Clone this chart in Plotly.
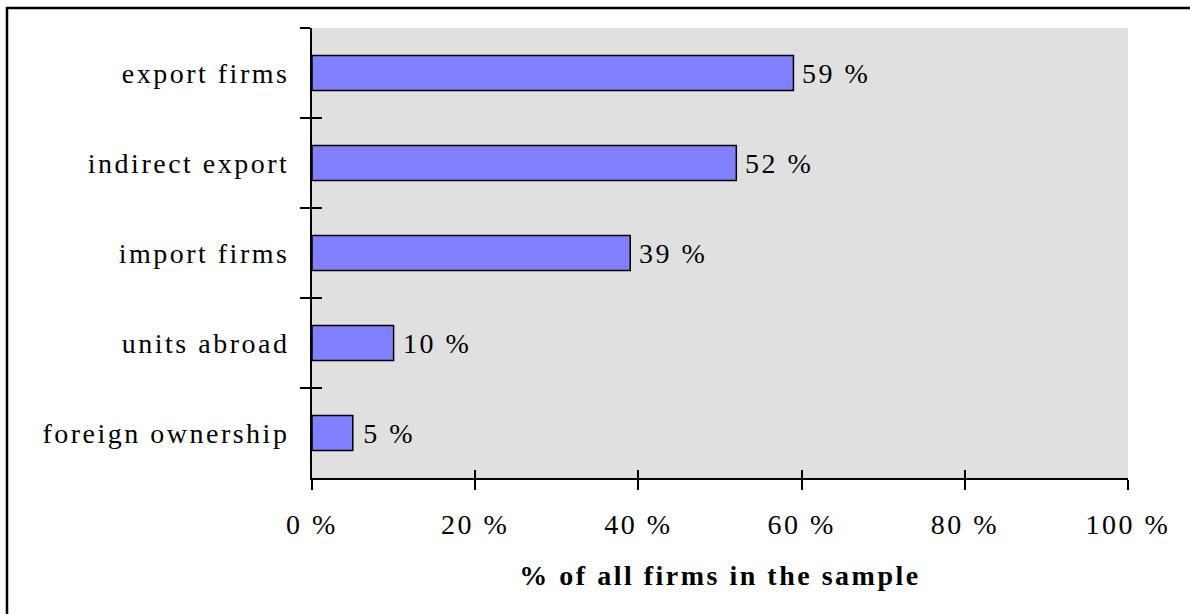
import plotly.graph_objects as go

categories = ["export firms", "indirect export", "import firms", "units abroad", "foreign ownership"]
values = [59, 52, 39, 10, 5]
value_labels = ["59 %", "52 %", "39 %", "10 %", "5 %"]
x_tick_vals = [0, 20, 40, 60, 80, 100]
x_tick_text = ["0 %", "20 %", "40 %", "60 %", "80 %", "100 %"]
x_title = "% of all firms in the sample"

W, H = 1190, 614
L, R, T, B = 312, 1128, 28, 478

FONT = "Liberation Serif"
FS = 28

fig = go.Figure()
fig.add_trace(go.Bar(
    x=values, y=categories, orientation="h",
    marker=dict(color="#8080ff", line=dict(color="black", width=1.5)),
    width=0.39, showlegend=False, hoverinfo="skip",
))
# helper trace so the overlaying tick axes are drawn
fig.add_trace(go.Scatter(x=[None], y=[None], xaxis="x2", yaxis="y2",
                         mode="markers", showlegend=False, hoverinfo="skip"))

def px2paperx(px):
    return (px - L) / (R - L)

def px2papery(py):
    return (B - py) / (B - T)

annotations = [
    dict(x=v, y=c, xref="x", yref="y", text=t, showarrow=False,
         xanchor="left", yanchor="middle", xshift=12,
         font=dict(family=FONT, size=FS, color="black"))
    for v, c, t in zip(values, categories, value_labels)
]

fig.update_layout(
    width=W, height=H,
    margin=dict(l=L, r=W - R, t=T, b=H - B, pad=0),
    paper_bgcolor="white", plot_bgcolor="#e0e0e0",
    font=dict(family=FONT, size=FS, color="black"),
    xaxis=dict(
        range=[0, 100], tickvals=x_tick_vals, ticktext=x_tick_text,
        ticks="outside", ticklen=10, tickwidth=2, tickcolor="black",
        showline=True, linecolor="black", linewidth=2,
        showgrid=False, zeroline=False,
        tickfont=dict(family=FONT, size=FS, color="black"),
        ticklabelstandoff=10,
        title=dict(text="<b>" + x_title + "</b>", font=dict(family=FONT, size=FS, color="black"), standoff=27),
    ),
    xaxis2=dict(
        range=[0, 100], tickvals=x_tick_vals, overlaying="x", anchor="y", side="bottom",
        ticks="inside", ticklen=8, tickwidth=2, tickcolor="black",
        showticklabels=False, showgrid=False, zeroline=False, showline=False,
    ),
    yaxis=dict(
        type="category", categoryorder="array", categoryarray=categories,
        autorange="reversed", tickson="boundaries",
        ticks="outside", ticklen=10, tickwidth=2, tickcolor="black",
        showline=True, linecolor="black", linewidth=2,
        showgrid=False, zeroline=False,
        tickfont=dict(family=FONT, size=FS, color="black"),
        ticklabelstandoff=15,
    ),
    yaxis2=dict(
        range=[0, 5], tickvals=[0, 1, 2, 3, 4, 5], overlaying="y", anchor="x", side="left",
        ticks="inside", ticklen=10, tickwidth=2, tickcolor="black",
        showticklabels=False, showgrid=False, zeroline=False, showline=False,
    ),
    annotations=annotations,
    shapes=[dict(
        type="rect", xref="paper", yref="paper",
        x0=px2paperx(7), x1=px2paperx(1200), y0=px2papery(620), y1=px2papery(8),
        line=dict(color="black", width=2.5), fillcolor="rgba(0,0,0,0)", layer="above",
    )],
)

post = """
var gd = document.getElementById('{plot_id}');
gd.querySelectorAll('text').forEach(function(t){ t.style.letterSpacing = '2.5px'; });
"""

fig.write_html("out.html", post_script=post)
